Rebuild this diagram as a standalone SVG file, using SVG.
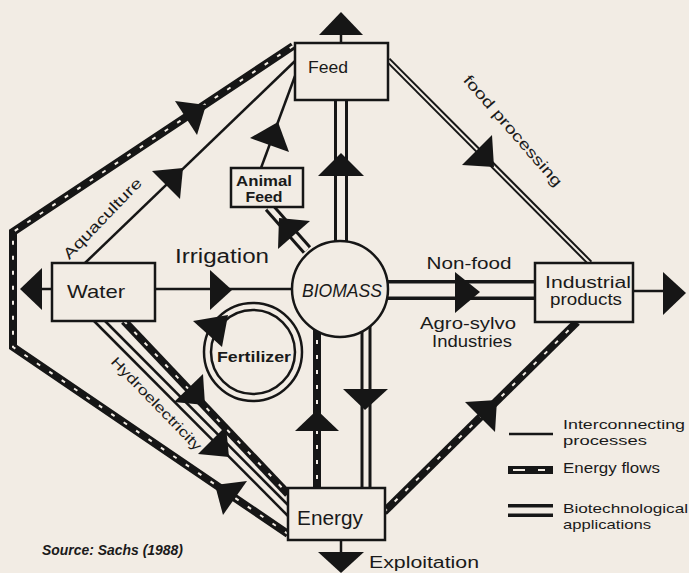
<svg xmlns="http://www.w3.org/2000/svg" width="689" height="573" viewBox="0 0 689 573">
<defs>
<style>
.bg{fill:#f2ece4}
.ln{stroke:#161616;fill:none;stroke-width:2.5}
.en{stroke:#161616;fill:none;stroke-width:8;stroke-linejoin:miter}
.end{stroke:#f2ece4;fill:none;stroke-width:2;stroke-dasharray:4 11}
.dbo{stroke:#161616;fill:none}
.dbi{stroke:#f2ece4;fill:none}
.box{fill:#f2ece4;stroke:#161616;stroke-width:2.5}
.ar{fill:#161616}
text{font-family:"Liberation Sans",Arial,sans-serif;fill:#1a1a1a}
</style>
</defs>
<rect class="bg" x="0" y="0" width="689" height="573"/>

<g id="connectors">
  <polyline class="en" points="293,46 13,232 13,347 288,534"/>
  <polyline class="end" points="293,46 13,232 13,347 288,534"/>
  <line class="ln" x1="85" y1="263" x2="295" y2="61"/>
  <line class="ln" x1="261" y1="168" x2="295" y2="76"/>
  <line class="dbo" x1="269" y1="207" x2="307" y2="250" stroke-width="11"/>
  <line class="dbi" x1="269" y1="207" x2="307" y2="250" stroke-width="5"/>
  <line class="dbo" x1="341" y1="100" x2="341" y2="245" stroke-width="14"/>
  <line class="dbi" x1="341" y1="100" x2="341" y2="245" stroke-width="8"/>
  <line class="ln" x1="341" y1="34" x2="341" y2="43" stroke-width="4"/>
  <line class="dbo" x1="388" y1="60" x2="590" y2="263" stroke-width="6"/>
  <line class="dbi" x1="388" y1="60" x2="590" y2="263" stroke-width="2"/>
  <line class="ln" x1="41" y1="289" x2="52" y2="289" stroke-width="3"/>
  <line class="ln" x1="155" y1="289" x2="294" y2="289" stroke-width="3"/>
  <line class="dbo" x1="385" y1="290" x2="535" y2="290" stroke-width="20"/>
  <line class="dbi" x1="385" y1="290" x2="535" y2="290" stroke-width="13"/>
  <line class="ln" x1="633" y1="291" x2="664" y2="291" stroke-width="3"/>
  <line class="ln" x1="94" y1="321" x2="288" y2="516"/>
  <line class="ln" x1="105" y1="321" x2="288" y2="505"/>
  <line class="en" x1="124" y1="321" x2="288" y2="494"/>
  <line class="end" x1="124" y1="321" x2="288" y2="494"/>
  <line class="en" x1="317" y1="325" x2="317" y2="488" stroke-width="7"/>
  <line class="end" x1="317" y1="325" x2="317" y2="488"/>
  <line class="dbo" x1="366" y1="325" x2="366" y2="488" stroke-width="11"/>
  <line class="dbi" x1="366" y1="325" x2="366" y2="488" stroke-width="5"/>
  <line class="ln" x1="341" y1="540" x2="341" y2="553" stroke-width="4"/>
  <line class="en" x1="384" y1="512" x2="577" y2="322" stroke-width="7"/>
  <line class="end" x1="384" y1="512" x2="577" y2="322"/>

  <polygon class="ar" points="341,12 319,35 363,35"/>
  <polygon class="ar" points="341,153 318,176 364,176"/>
  <polygon class="ar" points="206,105 175,101 197,135"/>
  <polygon class="ar" points="183,168 152,171 180,199"/>
  <polygon class="ar" points="278,122 250,138 289,152"/>
  <polygon class="ar" points="279,218 310,221 278,249"/>
  <polygon class="ar" points="20,289 42,268 42,310"/>
  <polygon class="ar" points="232,290 210,270 210,310"/>
  <polygon class="ar" points="480,292 455,272 455,313"/>
  <polygon class="ar" points="686,293 663,272 663,315"/>
  <polygon class="ar" points="494,167 492,135 462,165"/>
  <polygon class="ar" points="317,410 295,431 339,431"/>
  <polygon class="ar" points="343,389 388,389 365,410"/>
  <polygon class="ar" points="318,552 364,552 341,573"/>
  <polygon class="ar" points="497,400 465,402 495,432"/>
  <polygon class="ar" points="215,485 247,481 223,515"/>
  <polygon class="ar" points="205,405 203,374 174,402"/>
  <polygon class="ar" points="229,457 226,426 198,454"/>
</g>

<g id="labels">
  <text x="222" y="263" font-size="20" text-anchor="middle" textLength="94" lengthAdjust="spacingAndGlyphs">Irrigation</text>
  <text x="469" y="269" font-size="17" text-anchor="middle" textLength="85" lengthAdjust="spacingAndGlyphs">Non-food</text>
  <text x="468" y="329" font-size="16" text-anchor="middle" textLength="96" lengthAdjust="spacingAndGlyphs">Agro-sylvo</text>
  <text x="472" y="347" font-size="16" text-anchor="middle" textLength="80" lengthAdjust="spacingAndGlyphs">Industries</text>
  <text x="424" y="568" font-size="16" text-anchor="middle" textLength="110" lengthAdjust="spacingAndGlyphs">Exploitation</text>
  <text transform="translate(106,222) rotate(-46)" font-size="15" text-anchor="middle" textLength="106" lengthAdjust="spacingAndGlyphs">Aquaculture</text>
  <text transform="translate(153,407) rotate(46)" font-size="14" text-anchor="middle" textLength="124" lengthAdjust="spacingAndGlyphs">Hydroelectricity</text>
  <text transform="translate(509,134) rotate(49)" font-size="15" text-anchor="middle" textLength="142" lengthAdjust="spacingAndGlyphs">food   processing</text>
</g>

<g id="node-feed">
  <rect class="box" x="295" y="43" width="93" height="57" stroke-width="2"/>
  <text x="328" y="73" font-size="16" text-anchor="middle" textLength="40" lengthAdjust="spacingAndGlyphs">Feed</text>
</g>
<g id="node-animal-feed">
  <rect class="box" x="231" y="168" width="72" height="39"/>
  <text x="264" y="186" font-size="14" font-weight="bold" text-anchor="middle" textLength="56" lengthAdjust="spacingAndGlyphs">Animal</text>
  <text x="264" y="202" font-size="14" font-weight="bold" text-anchor="middle" textLength="37" lengthAdjust="spacingAndGlyphs">Feed</text>
</g>
<g id="node-water">
  <rect class="box" x="52" y="263" width="103" height="58"/>
  <text x="96" y="298" font-size="19" text-anchor="middle" textLength="58" lengthAdjust="spacingAndGlyphs">Water</text>
</g>
<g id="node-biomass">
  <circle class="box" cx="340" cy="289" r="48" stroke-width="4.5"/>
  <text x="342" y="297" font-size="19" font-style="italic" text-anchor="middle" textLength="80" lengthAdjust="spacingAndGlyphs">BIOMASS</text>
</g>
<g id="node-fertilizer">
  <circle cx="253" cy="352" r="49" fill="none" stroke="#161616" stroke-width="2.5"/>
  <circle cx="253" cy="352" r="42" fill="none" stroke="#161616" stroke-width="2.5"/>
  <polygon class="ar" points="193,321 228,315 222,347"/>
  <text x="254" y="362" font-size="15" font-weight="bold" text-anchor="middle" textLength="74" lengthAdjust="spacingAndGlyphs">Fertilizer</text>
</g>
<g id="node-industrial">
  <rect class="box" x="535" y="263" width="98" height="59"/>
  <text x="588" y="288" font-size="16" text-anchor="middle" textLength="86" lengthAdjust="spacingAndGlyphs">Industrial</text>
  <text x="586" y="305" font-size="16" text-anchor="middle" textLength="72" lengthAdjust="spacingAndGlyphs">products</text>
</g>
<g id="node-energy">
  <rect class="box" x="288" y="488" width="97" height="52"/>
  <text x="330" y="525" font-size="20" text-anchor="middle" textLength="66" lengthAdjust="spacingAndGlyphs">Energy</text>
</g>

<g id="legend">
  <line class="ln" x1="509" y1="434" x2="553" y2="434" stroke-width="3"/>
  <rect x="508" y="466" width="45" height="8" fill="#161616"/>
  <rect x="513" y="469" width="12" height="2" fill="#f2ece4"/>
  <rect x="538" y="469" width="7" height="2" fill="#f2ece4"/>
  <line class="dbo" x1="508" y1="510.5" x2="553" y2="510.5" stroke-width="13"/>
  <line class="dbi" x1="506" y1="510.5" x2="555" y2="510.5" stroke-width="6"/>
  <text x="563" y="429" font-size="13.5" textLength="122" lengthAdjust="spacingAndGlyphs">Interconnecting</text>
  <text x="563" y="445" font-size="13.5" textLength="84" lengthAdjust="spacingAndGlyphs">processes</text>
  <text x="563" y="473" font-size="14" textLength="97" lengthAdjust="spacingAndGlyphs">Energy  flows</text>
  <text x="563" y="513" font-size="13.5" textLength="125" lengthAdjust="spacingAndGlyphs">Biotechnological</text>
  <text x="563" y="529" font-size="13.5" textLength="88" lengthAdjust="spacingAndGlyphs">applications</text>
</g>

<text x="42" y="555" font-size="14" font-weight="bold" font-style="italic" textLength="141" lengthAdjust="spacingAndGlyphs">Source: Sachs (1988)</text>
</svg>
